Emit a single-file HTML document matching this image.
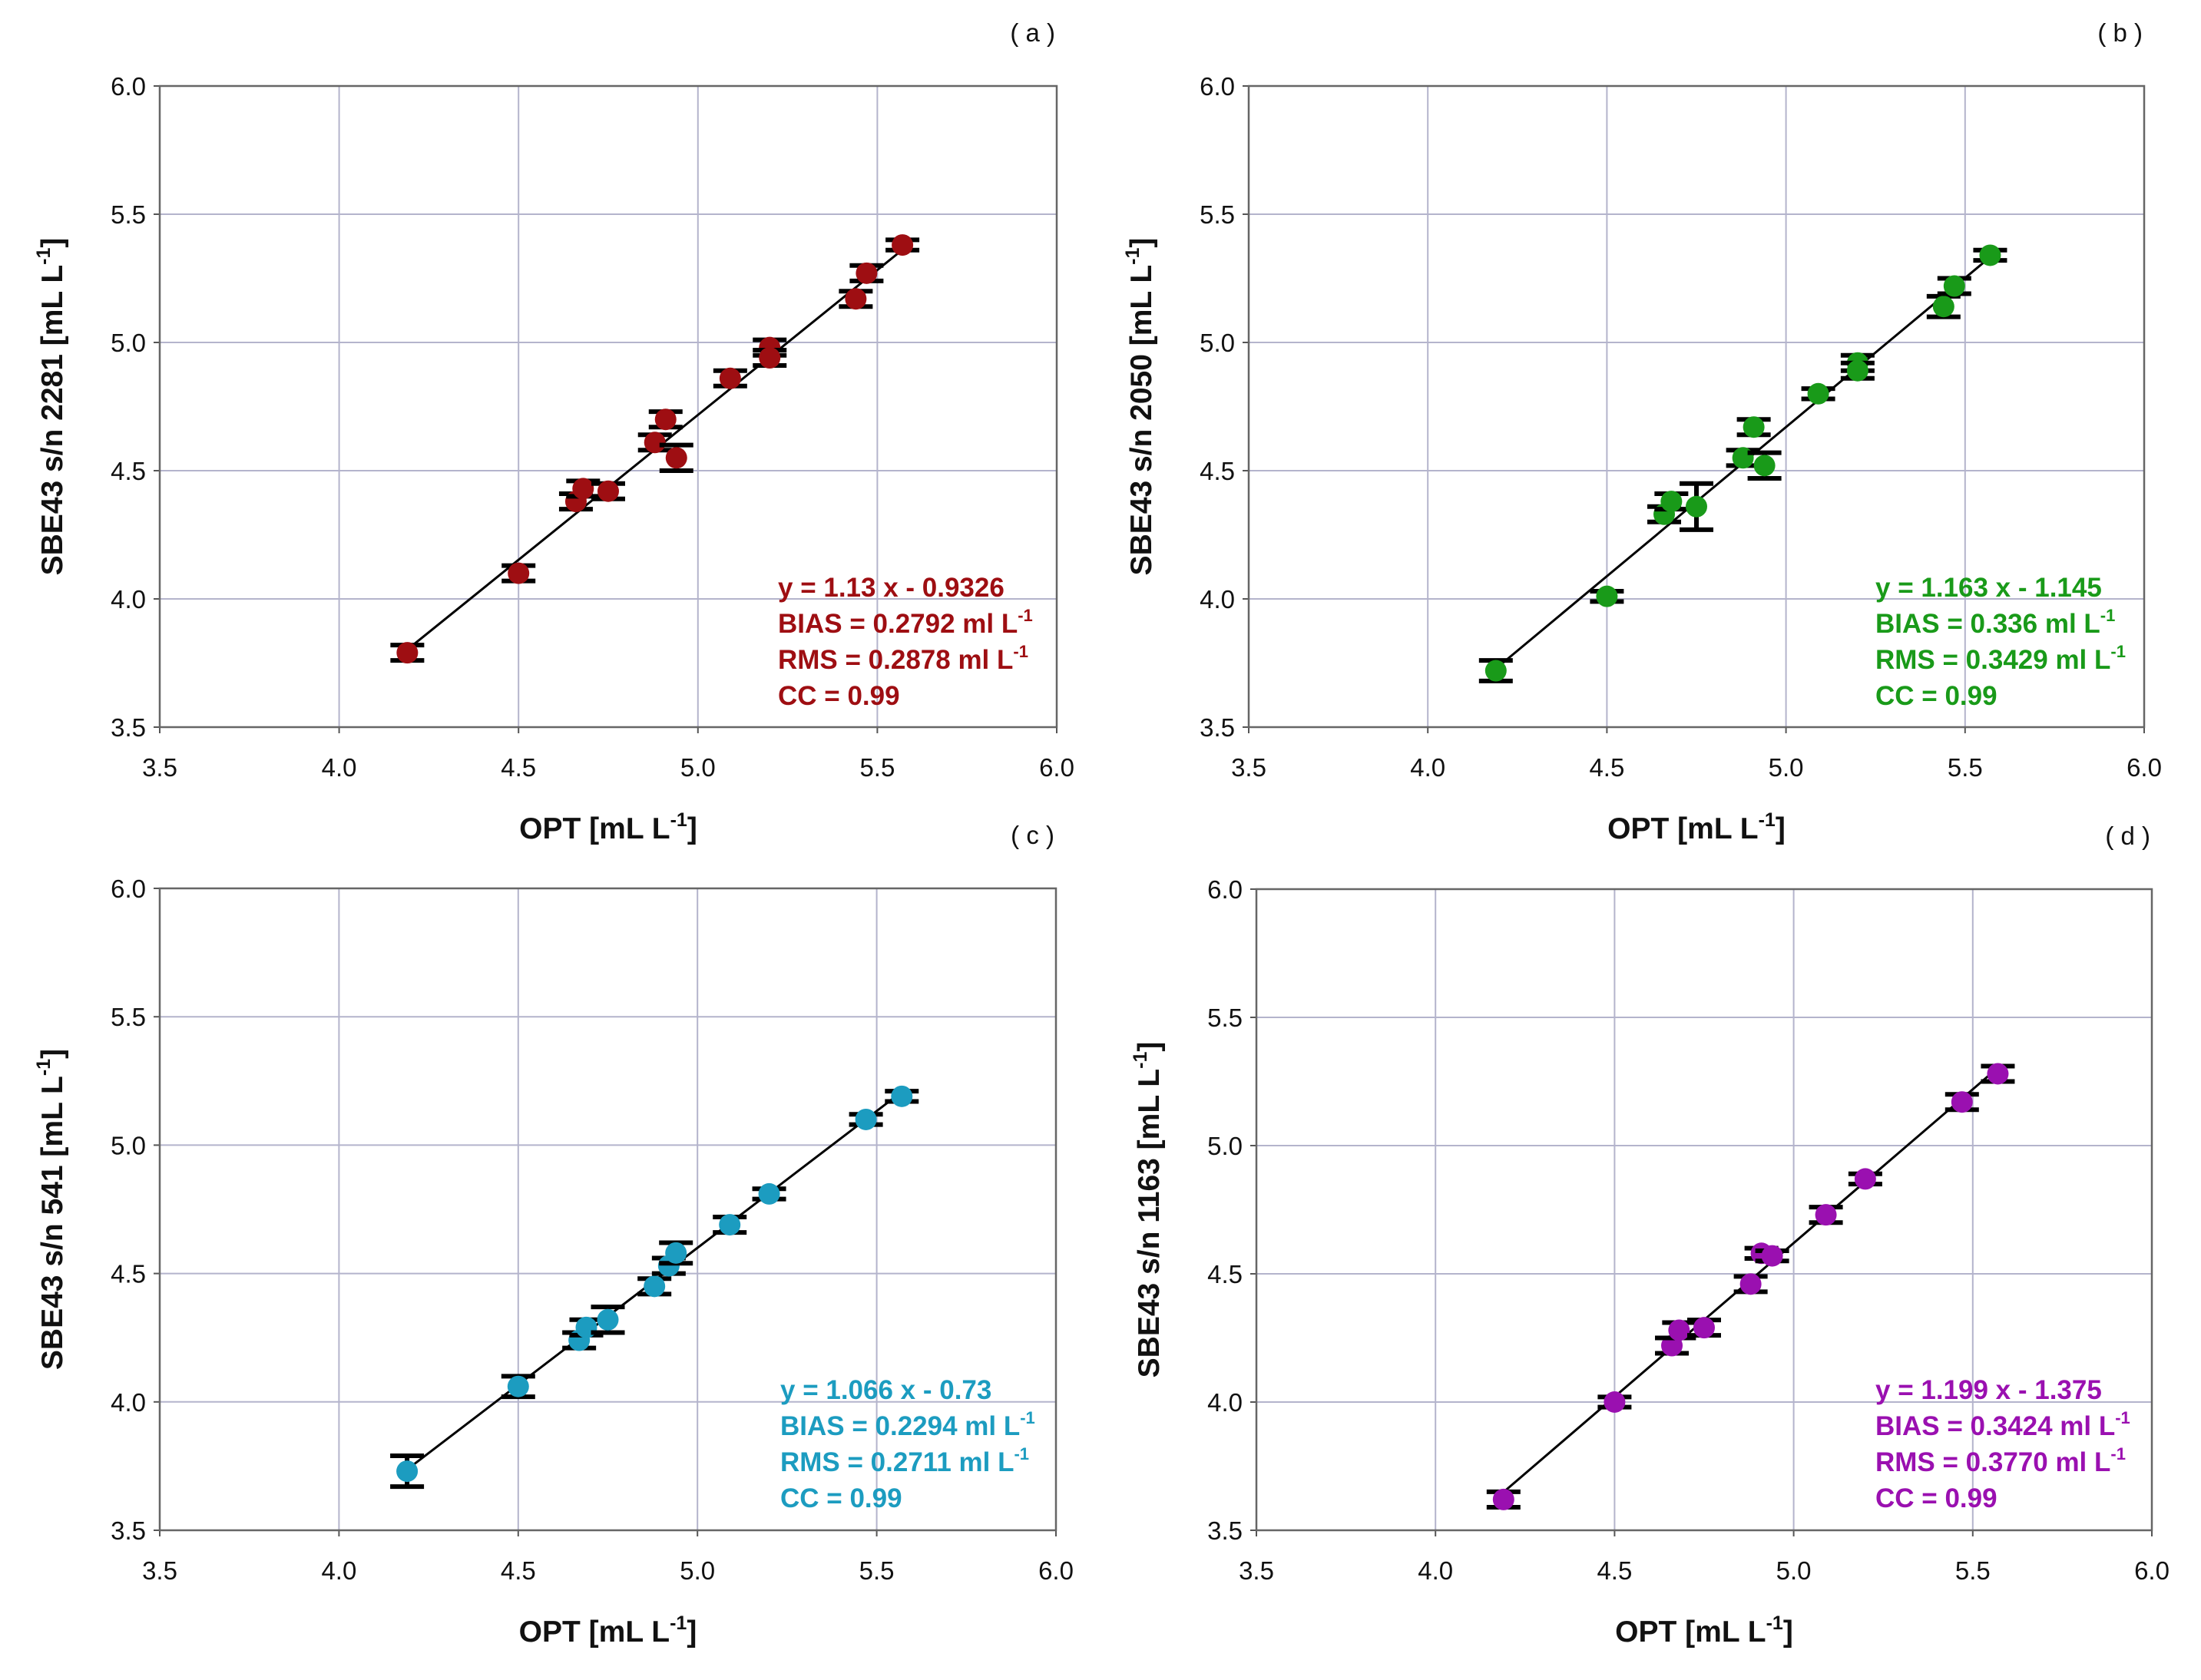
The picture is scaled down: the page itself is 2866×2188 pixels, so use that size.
<!DOCTYPE html>
<html><head><meta charset="utf-8"><style>
html,body{margin:0;padding:0;background:#fff}
svg{display:block}
text{font-family:"Liberation Sans",Arial,sans-serif}
</style></head><body>
<svg id="chart" width="2866" height="2188" viewBox="0 0 2866 2188" xmlns="http://www.w3.org/2000/svg"></svg>
<script>
const ticks = [3.5, 4.0, 4.5, 5.0, 5.5, 6.0];
const tickLabels = ["3.5","4.0","4.5","5.0","5.5","6.0"];

const xA = [4.19,4.50,4.66,4.68,4.75,4.88,4.91,4.94,5.09,5.20,5.20,5.44,5.47,5.57];
const yA = [3.79,4.10,4.38,4.43,4.42,4.61,4.70,4.55,4.86,4.98,4.94,5.17,5.27,5.38];
const eA = [0.03,0.03,0.03,0.03,0.03,0.03,0.03,0.05,0.03,0.03,0.03,0.03,0.03,0.02];
const fitA = [1.13,-0.9326];

const xB = [4.19,4.50,4.66,4.68,4.75,4.88,4.91,4.94,5.09,5.20,5.20,5.44,5.47,5.57];
const yB = [3.72,4.01,4.33,4.38,4.36,4.55,4.67,4.52,4.80,4.92,4.89,5.14,5.22,5.34];
const eB = [0.04,0.02,0.03,0.03,0.09,0.03,0.03,0.05,0.02,0.03,0.03,0.04,0.03,0.02];
const fitB = [1.163,-1.145];

const xC = [4.19,4.50,4.67,4.69,4.75,4.88,4.92,4.94,5.09,5.20,5.47,5.57];
const yC = [3.73,4.06,4.24,4.29,4.32,4.45,4.53,4.58,4.69,4.81,5.10,5.19];
const eC = [0.06,0.04,0.03,0.03,0.05,0.03,0.03,0.04,0.03,0.02,0.02,0.02];
const fitC = [1.066,-0.73];

const xD = [4.19,4.50,4.66,4.68,4.75,4.88,4.91,4.94,5.09,5.20,5.47,5.57];
const yD = [3.62,4.00,4.22,4.28,4.29,4.46,4.58,4.57,4.73,4.87,5.17,5.28];
const eD = [0.03,0.02,0.03,0.03,0.03,0.03,0.02,0.02,0.03,0.02,0.03,0.03];
const fitD = [1.199,-1.375];

const svg = document.getElementById('chart');
const NS = 'http://www.w3.org/2000/svg';
function mk(tag, attrs, parent){const e=document.createElementNS(NS,tag);for(const k in attrs)e.setAttribute(k,attrs[k]);(parent||svg).appendChild(e);return e;}

const panels = [
 {id:'a',L:208,R:1376,T:112,B:947,x:xA,y:yA,e:eA,fit:fitA,col:'#9e0e12',yt:'SBE43 s/n 2281',stats:['y = 1.13 x - 0.9326','BIAS = 0.2792 ml L','RMS = 0.2878 ml L','CC = 0.99'],sx:1013,sy:777,lab:'( a )'},
 {id:'b',L:1626,R:2792,T:112,B:947,x:xB,y:yB,e:eB,fit:fitB,col:'#199a19',yt:'SBE43 s/n 2050',stats:['y = 1.163 x - 1.145','BIAS = 0.336 ml L','RMS = 0.3429 ml L','CC = 0.99'],sx:2442,sy:777,lab:'( b )'},
 {id:'c',L:208,R:1375,T:1157,B:1993,x:xC,y:yC,e:eC,fit:fitC,col:'#1c9cc0',yt:'SBE43 s/n 541',stats:['y = 1.066 x - 0.73','BIAS = 0.2294 ml L','RMS = 0.2711 ml L','CC = 0.99'],sx:1016,sy:1822,lab:'( c )'},
 {id:'d',L:1636,R:2802,T:1158,B:1993,x:xD,y:yD,e:eD,fit:fitD,col:'#9a10b0',yt:'SBE43 s/n 1163',stats:['y = 1.199 x - 1.375','BIAS = 0.3424 ml L','RMS = 0.3770 ml L','CC = 0.99'],sx:2442,sy:1822,lab:'( d )'}
];

panels.forEach(p=>{
  const g = mk('g',{});
  
  
  const X=v=>p.L+(v-3.5)/2.5*(p.R-p.L);
  const Y=v=>p.B-(v-3.5)/2.5*(p.B-p.T);
  ticks.forEach((t,i)=>{
    if(i>0&&i<ticks.length-1){
      const gl=mk('line',{x1:X(t),x2:X(t),y1:p.T,y2:p.B,stroke:'#b4b4cc','stroke-width':2},g);
      
      
      const gh=mk('line',{x1:p.L,x2:p.R,y1:Y(t),y2:Y(t),stroke:'#b4b4cc','stroke-width':2},g);
      
      
    }
    const xl=mk('text',{x:X(t),y:p.B+64,'font-size':33,'text-anchor':'middle',fill:'#111'},g);
    xl.textContent=tickLabels[i];
    
    
    const yl=mk('text',{x:p.L-18,y:Y(t)+12,'font-size':33,'text-anchor':'end',fill:'#111'},g);
    yl.textContent=tickLabels[i];
    
    
    mk('line',{x1:X(t),x2:X(t),y1:p.B,y2:p.B+8,stroke:'#555','stroke-width':2},g);
    mk('line',{x1:p.L-8,x2:p.L,y1:Y(t),y2:Y(t),stroke:'#555','stroke-width':2},g);
  });
  const fr=mk('rect',{x:p.L,y:p.T,width:p.R-p.L,height:p.B-p.T,fill:'none',stroke:'#666','stroke-width':2.5},g);
  
  
  const xmin=Math.min(...p.x), xmax=Math.max(...p.x);
  const fl=mk('line',{x1:X(xmin),y1:Y(p.fit[0]*xmin+p.fit[1]),x2:X(xmax),y2:Y(p.fit[0]*xmax+p.fit[1]),stroke:'#000','stroke-width':3},g);
  
  
  p.x.forEach((xv,i)=>{
    const cx=X(xv), cy=Y(p.y[i]);
    const y1=Y(p.y[i]+p.e[i]), y2=Y(p.y[i]-p.e[i]);
    const eb=mk('path',{d:`M${cx} ${y1}V${y2}M${cx-22} ${y1}H${cx+22}M${cx-22} ${y2}H${cx+22}`,stroke:'#000','stroke-width':6,fill:'none'},g);
    
    
    const c=mk('circle',{cx:cx,cy:cy,r:14,fill:p.col},g);
    
    
  });
  p.stats.forEach((s,i)=>{
    const t=mk('text',{x:p.sx,y:p.sy+i*47,'font-size':35,'font-weight':'bold',fill:p.col},g);
    t.textContent=s;
    if(i==1||i==2){const ts=mk('tspan',{dy:-15,'font-size':22},t);ts.textContent='-1';}
    
    
  });
  const xt=mk('text',{x:(p.L+p.R)/2,y:p.B+145,'font-size':39,'font-weight':'bold','text-anchor':'middle',fill:'#111'},g);
  xt.innerHTML='OPT [mL L<tspan dy="-16" font-size="25">-1</tspan><tspan dy="16">]</tspan>';
  
  
  const cyT=(p.T+p.B)/2;
  const yx=p.L-127;
  const yt=mk('text',{x:yx,y:cyT,'font-size':39,'font-weight':'bold','text-anchor':'middle',fill:'#111',transform:`rotate(-90 ${yx} ${cyT})`},g);
  yt.innerHTML=p.yt+' [mL L<tspan dy="-16" font-size="25">-1</tspan><tspan dy="16">]</tspan>';
  
  
  const pl=mk('text',{x:p.R-2,y:p.T-58,'font-size':33,'text-anchor':'end',fill:'#111'},g);
  pl.textContent=p.lab;
  
  
});
</script>
</body></html>
